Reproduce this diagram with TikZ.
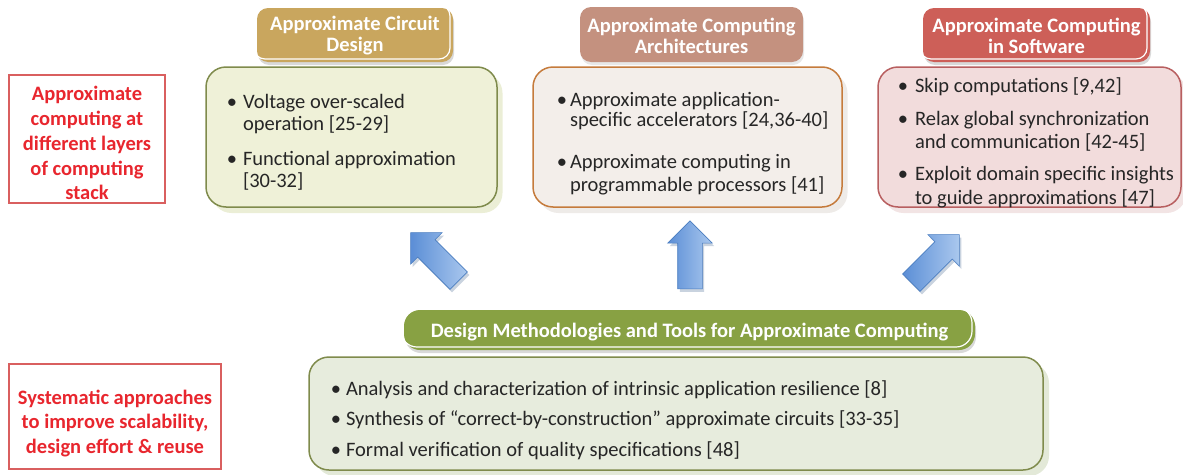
\documentclass[tikz,border=0pt]{standalone}
\usepackage{fontspec}
\setmainfont{Carlito}
\usetikzlibrary{shapes.arrows}
\definecolor{goldT}{HTML}{C9A65E}
\definecolor{roseT}{HTML}{C4917F}
\definecolor{redT}{HTML}{CD5F58}
\definecolor{bannerG}{HTML}{88A143}
\definecolor{fillA}{HTML}{EFF1D8}
\definecolor{edgeA}{HTML}{7F8B4C}
\definecolor{shadA}{HTML}{EBEED6}
\definecolor{fillB}{HTML}{F3EEEA}
\definecolor{edgeB}{HTML}{C57B3C}
\definecolor{shadB}{HTML}{EEEBE8}
\definecolor{fillC}{HTML}{F2DCDC}
\definecolor{edgeC}{HTML}{B85F60}
\definecolor{shadC}{HTML}{F2E4E4}
\definecolor{fillD}{HTML}{E7ECDD}
\definecolor{shadD}{HTML}{E3E9D8}
\definecolor{redline}{HTML}{D95F5F}
\definecolor{redtext}{HTML}{E8262E}
\definecolor{bodytext}{HTML}{262626}
\definecolor{arrD}{HTML}{5B8ED6}
\definecolor{arrL}{HTML}{AAC8EE}
\definecolor{arrE}{HTML}{4A7DC0}
\definecolor{arrS}{HTML}{C9D3DF}
\definecolor{ttlshadow}{HTML}{D9D9D9}
\begin{document}
\begin{tikzpicture}[x=1pt,y=-1pt,
  every node/.style={inner sep=0pt,outer sep=0pt},
  redbox/.style={draw=redline,line width=1.3pt,rectangle},
  redtxt/.style={text=redtext,font=\fontsize{20.5}{24}\selectfont\bfseries,anchor=base},
  body/.style={text=bodytext,font=\fontsize{20.5}{24}\selectfont,anchor=base west},
  bul/.style={text=bodytext,font=\fontsize{20.5}{24}\selectfont,anchor=base},
  contentbox/.style={rectangle,rounded corners=20pt,line width=1.5pt},
  shadowbox/.style={rectangle,rounded corners=20pt},
  titlebox/.style={rectangle,rounded corners=11pt},
  ttltxt/.style={text=white,align=center,font=\fontsize{20.5}{21}\selectfont\bfseries},
  whiteline/.style={draw=white,line width=1.2pt,rounded corners=11pt},
  arrowbase/.style={single arrow,single arrow head extend=10pt,inner xsep=0pt,inner ysep=12pt,
     single arrow tip angle=90,minimum height=68pt},
  bluearrow/.style={arrowbase,draw=arrE,line width=0.6pt,shade,left color=arrD,right color=arrL},
  arrowshadow/.style={arrowbase,fill=arrS}
]
\useasboundingbox (0,0) rectangle (1183,474);

% ---------- red side labels ----------
\node[redbox,minimum width=156pt,minimum height=128pt] (red1) at (87,139) {};
\node[redtxt] (r1a) at (87,100) {Approximate};
\node[redtxt] (r1b) at (87,125) {computing at};
\node[redtxt] (r1c) at (87,150) {different layers};
\node[redtxt] (r1d) at (87,175) {of computing};
\node[redtxt] (r1e) at (87,199) {stack};

\node[redbox,minimum width=212pt,minimum height=105pt] (red2) at (115,416.5) {};
\node[redtxt] (r2a) at (115,404) {Systematic approaches};
\node[redtxt] (r2b) at (115,428) {to improve scalability,};
\node[redtxt] (r2c) at (115,453) {design effort \& reuse};

% ---------- content boxes (shadows first) ----------
\node[shadowbox,fill=shadA,minimum width=291pt,minimum height=140pt] (s1) at (357,143) {};
\node[contentbox,fill=fillA,draw=edgeA,minimum width=291pt,minimum height=140pt] (b1) at (351.5,137) {};
\node[shadowbox,fill=shadB,minimum width=309pt,minimum height=140pt] (s2) at (693,143) {};
\node[contentbox,fill=fillB,draw=edgeB,minimum width=309pt,minimum height=140pt] (b2) at (687.5,137) {};
\node[shadowbox,fill=shadC,minimum width=303pt,minimum height=140pt] (s3) at (1035,143) {};
\node[contentbox,fill=fillC,draw=edgeC,minimum width=303pt,minimum height=140pt] (b3) at (1029.5,137) {};
\node[shadowbox,fill=shadD,minimum width=734pt,minimum height=113pt] (s4) at (682,419.5) {};
\node[contentbox,fill=fillD,draw=edgeA,minimum width=734pt,minimum height=113pt] (b4) at (676,413.5) {};

% ---------- titles ----------
\node[titlebox,fill=ttlshadow,minimum width=196pt,minimum height=54pt] (ts1) at (356,38) {};
\node[titlebox,fill=goldT,minimum width=196pt,minimum height=54pt] (t1) at (355,35) {};
\draw[whiteline] ([xshift=-3pt,yshift=3pt]t1.north west) rectangle ([xshift=-3pt,yshift=3pt]t1.south east);
\node[ttltxt] (t1t) at (355,36) {Approximate Circuit\\Design};

\node[titlebox,fill=ttlshadow!60,minimum width=223pt,minimum height=55pt] (ts2) at (692.5,37.5) {};
\node[titlebox,fill=roseT,minimum width=223pt,minimum height=55pt] (t2) at (691.5,34.5) {};
\node[ttltxt] (t2t) at (691.5,36) {Approximate Computing\\Architectures};

\node[titlebox,fill=ttlshadow,minimum width=227pt,minimum height=54pt] (ts3) at (1037.5,38) {};
\node[titlebox,fill=redT,minimum width=227pt,minimum height=54pt] (t3) at (1036.5,35) {};
\draw[whiteline] ([xshift=-3pt,yshift=3pt]t3.north west) rectangle ([xshift=-3pt,yshift=3pt]t3.south east);
\node[ttltxt] (t3t) at (1036.5,36) {Approximate Computing\\in Software};

% ---------- banner ----------
\node[titlebox,rounded corners=16pt,fill=ttlshadow,minimum width=571pt,minimum height=40pt] (bs) at (690.5,333) {};
\node[titlebox,rounded corners=16pt,fill=bannerG,minimum width=571pt,minimum height=40pt] (ban) at (689.5,330) {};
\draw[whiteline,rounded corners=16pt] ([xshift=-3pt,yshift=3pt]ban.north west) rectangle ([xshift=-3pt,yshift=3pt]ban.south east);
\node[text=white,font=\fontsize{20.5}{24}\selectfont\bfseries,anchor=base] (bant) at (689.5,337) {Design Methodologies and Tools for Approximate Computing};

% ---------- box 1 text ----------
\node[bul] (b1p1) at (232,108) {•};
\node[body] (b1l1) at (243,108) {Voltage over-scaled};
\node[body] (b1l2) at (243,130) {operation [25-29]};
\node[bul] (b1p2) at (232,165) {•};
\node[body] (b1l3) at (243,165) {Functional approximation};
\node[body] (b1l4) at (243,187) {[30-32]};

% ---------- box 2 text ----------
\node[bul] (b2p1) at (562,106) {•};
\node[body] (b2l1) at (570,106) {Approximate application-};
\node[body] (b2l2) at (570,126) {specific accelerators [24,36-40]};
\node[bul] (b2p2) at (562,168) {•};
\node[body] (b2l3) at (570,168) {Approximate computing in};
\node[body] (b2l4) at (570,191) {programmable processors [41]};

% ---------- box 3 text ----------
\node[bul] (b3p1) at (903,92) {•};
\node[body] (b3l1) at (915,92) {Skip computations [9,42]};
\node[bul] (b3p2) at (903,125) {•};
\node[body] (b3l2) at (915,125) {Relax global synchronization};
\node[body] (b3l3) at (915,148) {and communication [42-45]};
\node[bul] (b3p3) at (903,180) {•};
\node[body] (b3l4) at (915,180) {Exploit domain specific insights};
\node[body] (b3l5) at (915,204) {to guide approximations [47]};

% ---------- bottom box text ----------
\node[bul] (b4p1) at (336,395) {•};
\node[body] (b4l1) at (346,395) {Analysis and characterization of intrinsic application resilience [8]};
\node[bul] (b4p2) at (336,425) {•};
\node[body] (b4l2) at (346,425) {Synthesis of “correct-by-construction” approximate circuits [33-35]};
\node[bul] (b4p3) at (336,456) {•};
\node[body] (b4l3) at (346,456) {Formal verification of quality specifications [48]};

% ---------- arrows ----------
\node[arrowshadow,rotate=135] (a1s) at (441,264) {};
\node[bluearrow,rotate=135] (a1) at (439,261) {};
\node[arrowshadow,rotate=90] (a2s) at (692,264) {};
\node[bluearrow,rotate=90] (a2) at (690,261) {};
\node[arrowshadow,rotate=45] (a3s) at (933,266) {};
\node[bluearrow,rotate=45] (a3) at (931,263) {};
\end{tikzpicture}
\end{document}
